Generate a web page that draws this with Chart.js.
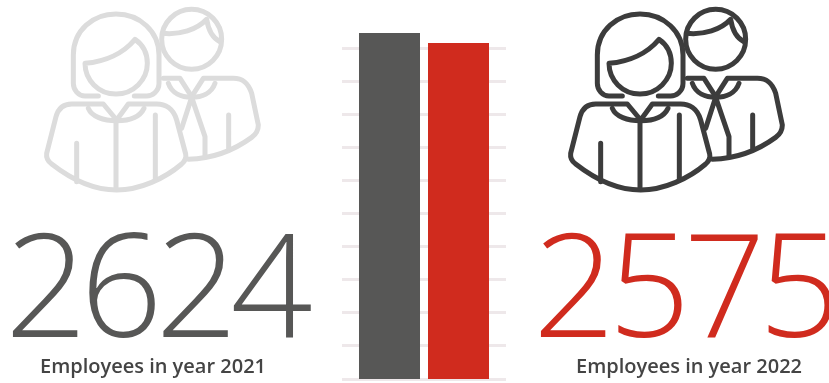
<!DOCTYPE html>
<html>
<head>
<meta charset="utf-8">
<title>Employees</title>
<script src="https://cdn.jsdelivr.net/npm/chart.js@4"></script>
<style>
    html, body { margin: 0; padding: 0; background: #fff; }
    #wrap { position: relative; width: 829px; height: 383px; overflow: hidden; font-family: "Open Sans", sans-serif; }
    #chart { position: absolute; left: 0; top: 0; }
    .icon { position: absolute; top: 0; width: 230px; height: 200px; fill: none; stroke-width: 15; stroke-linecap: round; stroke-linejoin: round; }
    .big { position: absolute; top: 181px; font-size: 144px; line-height: 200px; font-weight: 300; letter-spacing: -7px; white-space: nowrap; }
    .caption { position: absolute; top: 353px; width: 300px; text-align: center; font-size: 20px; line-height: 26px; font-weight: 600; color: #444; white-space: nowrap; }
</style>
</head>
<body>
<div id="wrap">
    <svg width="0" height="0" style="position:absolute">
        <symbol id="people" viewBox="0 0 690 600">
            <!-- woman -->
            <path d="M175 288H135C115 288 100 270 100 250V165C100 90 160 42 228 42C300 42 357 95 357 165V250C357 275 335 288 320 288H283"/>
            <path d="M135 190C195 185 250 160 285 118C310 135 322 160 322 190C322 240 280 282 228 282C175 282 135 240 135 190Z"/>
            <path d="M190 312H95C70 312 55 325 48 350L20 460C18 475 25 485 35 492C90 535 160 570 230 570C300 570 375 535 425 492C435 483 440 475 437 462L410 360C400 325 375 312 350 312H265L230 360Z"/>
            <path d="M145 325C155 350 190 362 230 362C270 362 300 350 312 325"/>
            <path d="M228 362V565M110 430V545M346 345V540"/>
            <!-- man -->
            <circle cx="455" cy="118" r="90"/>
            <path d="M368 100C420 105 470 90 500 58C505 90 520 115 540 125"/>
            <path d="M370 235H420L455 290L490 235H580C610 235 625 250 635 280L655 375C655 395 645 405 635 412C590 445 530 475 445 478"/>
            <path d="M385 250C395 280 425 292 455 292C485 292 515 280 525 250"/>
            <path d="M455 292L425 385M455 292L495 410V470M566 345V445"/>
        </symbol>
    </svg>
    <canvas id="chart" width="829" height="383"></canvas>
    <svg class="icon" style="left:40px;stroke:#dcdcdc"><use href="#people"/></svg>
    <svg class="icon" style="left:564px;stroke:#3c3c3c"><use href="#people"/></svg>
    <div class="big" id="big0" style="left:5px;color:#575756"></div>
    <div class="big" id="big1" style="left:533px;color:#d02b1e"></div>
    <div class="caption" id="cap0" style="left:3px"></div>
    <div class="caption" id="cap1" style="left:539px"></div>
</div>
<script>
const years = ["2021", "2022"];
const employees = [2624, 2575];
const barColors = ["#575756", "#d02b1e"];
const gridValues = [929, 1091, 1253, 1415, 1577, 1739, 1901, 2063, 2225, 2387, 2549];

// big number and caption under each icon
years.forEach((year, i) => {
    document.getElementById("big" + i).textContent = employees[i];
    document.getElementById("cap" + i).textContent = "Employees in year " + year;
});

const ctx = document.getElementById("chart").getContext("2d");
new Chart(ctx, {
    type: "bar",
    data: {
        labels: ["Employees"],
        datasets: years.map((year, i) => ({
            label: year,
            data: [employees[i]],
            backgroundColor: barColors[i],
            categoryPercentage: 0.8415,
            barPercentage: 0.884
        }))
    },
    options: {
        responsive: false,
        animation: false,
        layout: { padding: { left: 342, right: 323, top: 23, bottom: 4 } },
        plugins: { legend: { display: false }, tooltip: { enabled: false } },
        scales: {
            x: { display: false },
            y: {
                min: 929,
                max: 2673,
                afterBuildTicks: axis => {
                    axis.ticks = gridValues.map(value => ({ value }));
                },
                ticks: { display: false },
                border: { display: false },
                grid: { color: "#eee8ea", lineWidth: 3, drawTicks: false }
            }
        }
    }
});
</script>
</body>
</html>
